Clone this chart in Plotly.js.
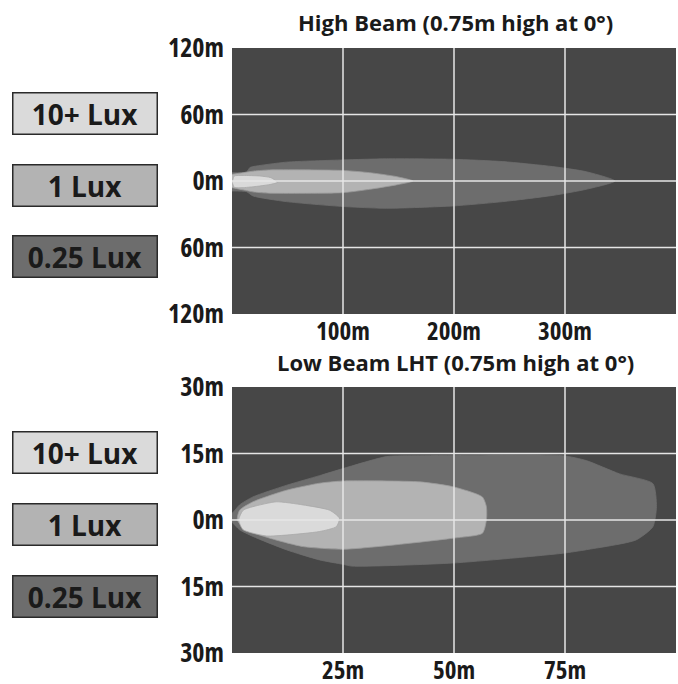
<!DOCTYPE html>
<html>
<head>
<meta charset="utf-8">
<script src="https://cdn.plot.ly/plotly-3.0.1.min.js"></script>
<style>
html,body{margin:0;padding:0;background:#fff;}
#chart{width:678px;height:684px;}
#chart g.xtick text, #chart g.ytick text, #chart g.x2tick text, #chart g.y2tick text{font-stretch:80% !important;}
</style>
</head>
<body>
<div id="chart"></div>
<script>
// ---------- DATA ----------
// High Beam isolux contours (x = distance m, y = lateral m)
const highLux025X = [0, 13, 16, 19, 49, 100, 139, 199, 244, 289, 319, 345, 319, 289, 244, 199, 139, 100, 49, 19, 13, 0];
const highLux025Y = [7.5, 8, 12, 13, 17, 19, 20, 19.6, 17.5, 13, 8.4, 0, -7.5, -13, -18.6, -22.5, -24.6, -23, -18.6, -13.5, -9.6, -9];
const highLux1X = [0, 10, 20, 34, 100, 124, 148, 163, 148, 124, 100, 34, 20, 10, 0];
const highLux1Y = [6, 7.5, 9, 10, 9.5, 7.5, 4, 0, -3.5, -7.5, -10.5, -11, -10, -8, -6];
const highLux10X = [0.5, 2, 10, 25, 35, 41, 35, 25, 10, 2, 0.5];
const highLux10Y = [0, 4.5, 5, 4.5, 3, -1.2, -3, -4.5, -6, -5.7, -2];

// Low Beam LHT isolux contours
const lowLux025X = [0, 0.5, 1.7, 4.7, 12.2, 19.7, 25, 34.8, 42.3, 74.5, 79.8, 87.3, 94.8, 95.6, 94.8, 91, 79.8, 74.5, 49.8, 27, 25, 19.7, 12.2, 4.7, 1.7, 0.2, 0];
const lowLux025Y = [1.5, 2, 3.4, 5.2, 7.8, 10, 11.6, 14.3, 14.5, 14.5, 13.4, 10.4, 8.2, 3, -1.5, -4.5, -6.7, -7.5, -9.7, -10.4, -10, -9, -6.7, -3.7, -2.2, -0.7, -0.5];
const lowLux1X = [1.2, 1.7, 4.7, 12.2, 19.7, 25, 42.3, 49.8, 56.4, 57.3, 57.3, 56.4, 49.8, 34.8, 25, 16, 8.5, 3.2, 1.2];
const lowLux1Y = [0, 2.2, 4.1, 6.7, 8.3, 8.8, 8.6, 7.5, 5.2, 3, 0, -3, -4.1, -5.8, -6.6, -6, -4.1, -2.2, 0];
const lowLux10X = [1.5, 2.5, 4.7, 10, 16, 22, 24.2, 23.5, 19.7, 12.2, 7.7, 2.5, 1.5];
const lowLux10Y = [0, 2.2, 3, 4.1, 3.4, 2.2, 0.4, -1.5, -2.6, -3.4, -3.6, -2.2, 0];

// Axes
const highXRange = [0, 400];
const highYRange = [-120, 120];
const highXTicks = [100, 200, 300];
const highXTickText = ['100m', '200m', '300m'];
const highYTicks = [-120, -60, 0, 60, 120];
const highYTickText = ['120m', '60m', '0m', '60m', '120m'];
const highYGrid = [-60, 0, 60];

const lowXRange = [0, 100];
const lowYRange = [-30, 30];
const lowXTicks = [25, 50, 75];
const lowXTickText = ['25m', '50m', '75m'];
const lowYTicks = [-30, -15, 0, 15, 30];
const lowYTickText = ['30m', '15m', '0m', '15m', '30m'];
const lowYGrid = [-15, 0, 15];

const legendLabels = ['10+ Lux', '1 Lux', '0.25 Lux'];
const titles = ['High Beam (0.75m high at 0°)', 'Low Beam LHT (0.75m high at 0°)'];

// ---------- STYLE ----------
const FONT = '"Open Sans", sans-serif';
const C10 = '#dadada', C1 = '#b3b3b3', C025 = '#6d6d6d', BG = '#474747';
const legendColors = [C10, C1, C025];
const GRID = '#e6e6e6';
const INK = '#1a1a1a';

function fillTrace(x, y, color, xa, ya, lineColor) {
  return {x: x, y: y, type: 'scatter', mode: 'lines', fill: 'toself', fillcolor: color,
    line: {color: lineColor || color, width: 0.8, shape: 'spline', smoothing: 0.6},
    xaxis: xa, yaxis: ya, hoverinfo: 'skip'};
}
function gridTrace(xt, yg, xr, yr, xa, ya) {
  const gx = [], gy = [];
  xt.forEach(t => { gx.push(t, t, null); gy.push(yr[0], yr[1], null); });
  yg.forEach(t => { gx.push(xr[0], xr[1], null); gy.push(t, t, null); });
  return {x: gx, y: gy, type: 'scatter', mode: 'lines', line: {color: GRID, width: 1.5},
    xaxis: xa, yaxis: ya, hoverinfo: 'skip', connectgaps: false};
}

const data = [
  fillTrace(highLux025X, highLux025Y, C025, 'x', 'y'),
  fillTrace(highLux1X, highLux1Y, C1, 'x', 'y', '#9a9a9a'),
  fillTrace(highLux10X, highLux10Y, C10, 'x', 'y', '#a8a8a8'),
  gridTrace(highXTicks, highYGrid, highXRange, highYRange, 'x', 'y'),
  fillTrace(lowLux025X, lowLux025Y, C025, 'x2', 'y2'),
  fillTrace(lowLux1X, lowLux1Y, C1, 'x2', 'y2', '#9a9a9a'),
  fillTrace(lowLux10X, lowLux10Y, C10, 'x2', 'y2', '#a8a8a8'),
  gridTrace(lowXTicks, lowYGrid, lowXRange, lowYRange, 'x2', 'y2')
];

const W = 678, H = 684;
const px = v => v / W;
const py = v => 1 - v / H;
const xTickFont = {family: FONT, size: 25, color: INK, weight: 'bold'};
const yTickFont = {family: FONT, size: 26, color: INK, weight: 'bold'};

function xAxis(range, ticks, text, anchor) {
  return {domain: [px(232), px(676)], range: range, tickmode: 'array', tickvals: ticks, ticktext: text,
    showgrid: false, zeroline: false, showline: false, ticks: '', tickfont: xTickFont, anchor: anchor,
    fixedrange: true, ticklabelstandoff: 0};
}
function yAxis(range, ticks, text, anchor, top, bottom) {
  return {domain: [py(bottom), py(top)], range: range, tickmode: 'array', tickvals: ticks, ticktext: text,
    showgrid: false, zeroline: false, showline: false, ticks: '', tickfont: yTickFont, anchor: anchor,
    fixedrange: true, ticklabelstandoff: 7};
}

const annotations = [];
titles.forEach((t, i) => {
  annotations.push({text: t, xref: 'paper', yref: 'paper', x: px(455), y: py(i === 0 ? 22 : 362),
    xanchor: 'center', yanchor: 'middle', showarrow: false,
    font: {family: FONT, size: 22, color: INK, weight: 'bold'}});
});
const legendCenters = [[113.7, 185, 256.7], [452.5, 524.2, 596]];
legendCenters.forEach(group => {
  group.forEach((cy, i) => {
    annotations.push({text: legendLabels[i], xref: 'paper', yref: 'paper', x: px(85.3), y: py(cy),
      xanchor: 'center', yanchor: 'middle', showarrow: false, width: 143, height: 40,
      bgcolor: legendColors[i], bordercolor: '#2a2a2a', borderwidth: 1.5, borderpad: 0,
      font: {family: FONT, size: 28, color: INK, weight: 'bold'}});
  });
});

const layout = {
  width: W, height: H, margin: {l: 0, r: 0, t: 0, b: 0},
  paper_bgcolor: '#ffffff', plot_bgcolor: BG, showlegend: false,
  xaxis: xAxis(highXRange, highXTicks, highXTickText, 'y'),
  yaxis: yAxis(highYRange, highYTicks, highYTickText, 'x', 48, 314),
  xaxis2: xAxis(lowXRange, lowXTicks, lowXTickText, 'y2'),
  yaxis2: yAxis(lowYRange, lowYTicks, lowYTickText, 'x2', 387, 653),
  annotations: annotations
};

Plotly.newPlot('chart', data, layout, {staticPlot: true, displayModeBar: false});
</script>
</body>
</html>
